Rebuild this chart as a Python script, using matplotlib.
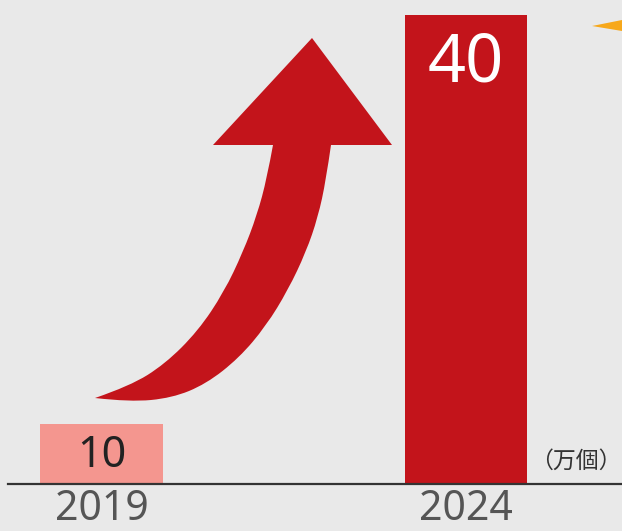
import matplotlib
matplotlib.use("Agg")
import matplotlib.pyplot as plt
from matplotlib.path import Path
from matplotlib.patches import PathPatch, Polygon

plt.rcParams['font.family'] = ['Noto Sans', 'Noto Sans CJK JP', 'DejaVu Sans']

# data
years = ["2019", "2024"]
values = [10, 40]
value_labels = ["10", "40"]
unit = "（万個）"

bar_colors = ["#f4968f", "#c3141b"]
label_colors = ["#222222", "#ffffff"]
label_sizes = [31, 48]
label_offsets = [-23, -35]   # points below bar top

fig = plt.figure(figsize=(6.22, 5.31), dpi=100)
fig.patch.set_facecolor("#e9e9e9")

# main axes: baseline at 484 px from top
ax = fig.add_axes([0, 47 / 531, 1, 484 / 531])
ax.set_facecolor("none")
x = [0, 1]
ax.bar(x, values, width=0.337, color=bar_colors, zorder=2)
ax.set_xlim(-0.2785, 1.428)
ymin = 5.6
ax.set_ylim(ymin, 41.1)
for s in ax.spines.values():
    s.set_visible(False)
ax.set_yticks([])
ax.set_xticks([])

ax.axhline(ymin, xmin=0.013, xmax=1, color="#333333", lw=1.6, clip_on=False, zorder=3)

for i, v in enumerate(values):
    ax.annotate(value_labels[i], (x[i], v), xytext=(0, label_offsets[i]),
                textcoords="offset points", ha="center", va="center",
                fontsize=label_sizes[i], color=label_colors[i], zorder=4,
                fontweight="medium")
    ax.annotate(years[i], (x[i], ymin), xytext=(0, -18),
                textcoords="offset points", ha="center", va="center",
                fontsize=29.5, color="#555555", annotation_clip=False,
                fontweight="medium")

ax.text(1.0, 0.047, unit, transform=ax.transAxes, ha="right", va="center",
        fontsize=16.5, color="#333333", family=['Noto Sans CJK JP', 'DejaVu Sans'])

# decoration layer in pixel coordinates
deco = fig.add_axes([0, 0, 1, 1], zorder=1)
deco.set_xlim(0, 622)
deco.set_ylim(531, 0)
deco.axis("off")
deco.set_facecolor("none")


def smooth(pts):
    verts = [pts[0]]
    codes = [Path.MOVETO]
    for k in range(1, len(pts) - 1):
        mid = ((pts[k][0] + pts[k + 1][0]) / 2, (pts[k][1] + pts[k + 1][1]) / 2)
        verts += [pts[k], mid]
        codes += [Path.CURVE3, Path.CURVE3]
    verts[-1] = pts[-1]
    return verts, codes


right_edge = [(331, 145), (326, 180), (318, 217), (306, 252), (288, 290),
              (266, 326), (239, 358), (206, 384), (172, 398), (130, 402), (95, 398)]
left_edge = [(95, 398), (130, 386), (165, 364), (198, 331), (224, 292),
             (243, 252), (257, 215), (267, 178), (273, 145)]
rv, rc = smooth(right_edge)
lv, lc = smooth(left_edge)
verts = [(273, 145), (213, 145), (312, 38), (392, 145)] + rv + lv[1:]
codes = [Path.MOVETO, Path.LINETO, Path.LINETO, Path.LINETO] + [Path.LINETO] + rc[1:] + lc[1:]
verts.append((273, 145))
codes.append(Path.CLOSEPOLY)
deco.add_patch(PathPatch(Path(verts, codes), facecolor="#c3141b", edgecolor="none"))

# orange tip at top right
deco.add_patch(Polygon([(592, 26), (622, 20), (622, 31)], closed=True,
                       facecolor="#f7a81b", edgecolor="none"))

ax.set_zorder(2)
fig.savefig("out.png", dpi=100, facecolor=fig.get_facecolor())
